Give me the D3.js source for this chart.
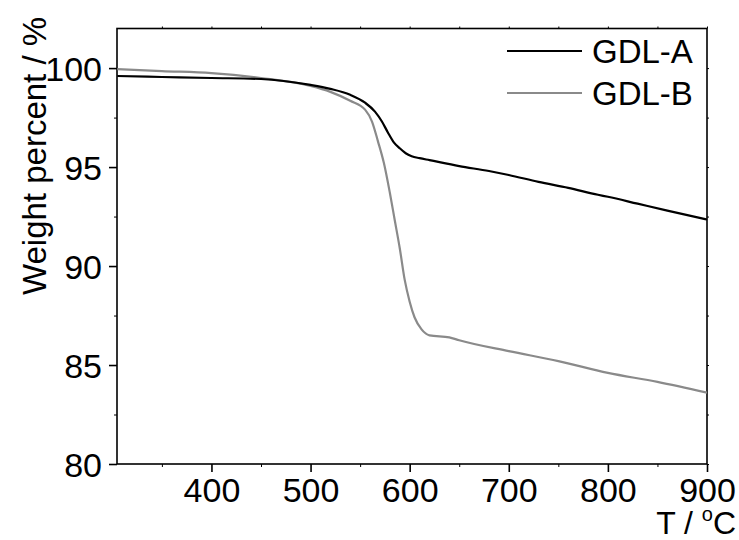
<!DOCTYPE html>
<html lang="en">
<head>
<meta charset="utf-8">
<title>TGA: GDL-A vs GDL-B</title>
<script src="https://d3js.org/d3.v7.min.js"></script>
<style>
  body { margin: 0; background: #fff; }
  svg text { font-family: "Liberation Sans", Arial, sans-serif; fill: #000; }
</style>
</head>
<body>
<script>
// temperatures (°C) and weight (%)
var tempA = [305, 350, 400, 450, 500, 520, 540, 555, 565, 572, 578, 584, 590, 596, 602, 610, 620, 650, 680, 700, 730, 760, 790, 800, 830, 860, 900];
var weightA = [99.6, 99.55, 99.5, 99.45, 99.15, 98.95, 98.65, 98.25, 97.8, 97.3, 96.75, 96.25, 95.95, 95.7, 95.55, 95.45, 95.35, 95.05, 94.8, 94.6, 94.25, 93.95, 93.6, 93.5, 93.15, 92.8, 92.35];

var tempB = [305, 350, 400, 450, 500, 520, 540, 555, 562, 568, 574, 580, 585, 590, 595, 600, 605, 612, 620, 640, 650, 700, 750, 800, 850, 900];
var weightB = [99.95, 99.85, 99.75, 99.5, 99.1, 98.8, 98.35, 97.9, 97.3, 96.3, 95.2, 93.7, 92.3, 90.9, 89.3, 88.2, 87.4, 86.8, 86.5, 86.4, 86.25, 85.7, 85.2, 84.6, 84.15, 83.6];

var seriesNames = ["GDL-A", "GDL-B"];
var seriesColors = ["#000000", "#8a8a8a"];
var xTicks = [400, 500, 600, 700, 800, 900];
var yTicks = [80, 85, 90, 95, 100];

var width = 739, height = 540;
var margin = {left: 117, right: 32, top: 28.5, bottom: 76};
var plotW = width - margin.left - margin.right;
var plotH = height - margin.top - margin.bottom;

var svg = d3.select("body").append("svg")
    .attr("width", width)
    .attr("height", height);

var x = d3.scaleLinear().domain([304.7, 900]).range([0, plotW]);
var y = d3.scaleLinear().domain([80, 102]).range([plotH, 0]);

var g = svg.append("g")
    .attr("transform", "translate(" + margin.left + "," + margin.top + ")");

// minor ticks first, then major ones
var xMinor = d3.range(350, 900, 100);
var yMinor = d3.range(82.5, 101, 5);

g.append("g")
    .attr("transform", "translate(0," + plotH + ")")
    .call(d3.axisBottom(x).tickValues(xMinor).tickSize(3).tickFormat(""))
    .call(function(s) { s.select(".domain").remove(); });

g.append("g")
    .call(d3.axisLeft(y).tickValues(yMinor).tickSize(3).tickFormat(""))
    .call(function(s) { s.select(".domain").remove(); });

var xAxis = g.append("g")
    .attr("transform", "translate(0," + plotH + ")")
    .call(d3.axisBottom(x).tickValues(xTicks).tickSize(8).tickSizeOuter(0).tickPadding(6));

var yAxis = g.append("g")
    .call(d3.axisLeft(y).tickValues(yTicks).tickSize(8).tickSizeOuter(0).tickPadding(7));

[xAxis, yAxis].forEach(function(a) {
    a.selectAll("line").attr("stroke-width", 1.6);
    a.select(".domain").remove();
    a.selectAll("text").style("font-size", "34px").attr("fill", "#000");
});
xAxis.selectAll("text").attr("dy", "0.72em");
yAxis.selectAll("text").attr("dy", "0.36em");

// small ticks on top and right borders
g.append("g")
    .call(d3.axisTop(x).tickValues(xTicks.concat(xMinor)).tickSize(2).tickFormat(""))
    .call(function(s) { s.select(".domain").remove(); });
g.append("g")
    .attr("transform", "translate(" + plotW + ",0)")
    .call(d3.axisRight(y).tickValues(yTicks.concat(yMinor)).tickSize(2).tickFormat(""))
    .call(function(s) { s.select(".domain").remove(); });

// frame
g.append("rect")
    .attr("width", plotW)
    .attr("height", plotH)
    .attr("fill", "none")
    .attr("stroke", "#000")
    .attr("stroke-width", 1.6);

g.append("clipPath").attr("id", "clip")
    .append("rect").attr("width", plotW).attr("height", plotH);

var line = d3.line()
    .x(function(d) { return x(d[0]); })
    .y(function(d) { return y(d[1]); })
    .curve(d3.curveMonotoneX);

var dataB = d3.zip(tempB, weightB);
var dataA = d3.zip(tempA, weightA);

g.append("path")
    .datum(dataB)
    .attr("clip-path", "url(#clip)")
    .attr("fill", "none")
    .attr("stroke", seriesColors[1])
    .attr("stroke-width", 2.2)
    .attr("d", line);

g.append("path")
    .datum(dataA)
    .attr("clip-path", "url(#clip)")
    .attr("fill", "none")
    .attr("stroke", seriesColors[0])
    .attr("stroke-width", 2.2)
    .attr("d", line);

// legend
var legend = svg.append("g");
seriesNames.forEach(function(name, i) {
    var ly = 51 + i * 42;
    legend.append("line")
        .attr("x1", 507).attr("x2", 582)
        .attr("y1", ly).attr("y2", ly)
        .attr("stroke", seriesColors[i])
        .attr("stroke-width", 2.2);
    legend.append("text")
        .attr("x", 592).attr("y", ly)
        .attr("dy", "0.36em")
        .style("font-size", "33px")
        .text(name);
});

// axis titles
svg.append("text")
    .attr("transform", "translate(46,156) rotate(-90)")
    .attr("text-anchor", "middle")
    .style("font-size", "33px")
    .text("Weight percent / %");

var xt = svg.append("text")
    .attr("x", 736).attr("y", 534)
    .attr("text-anchor", "end")
    .style("font-size", "32px");
xt.append("tspan").text("T / ");
xt.append("tspan").attr("dy", -13).style("font-size", "20px").text("o");
xt.append("tspan").attr("dy", 13).text("C");
</script>
</body>
</html>
